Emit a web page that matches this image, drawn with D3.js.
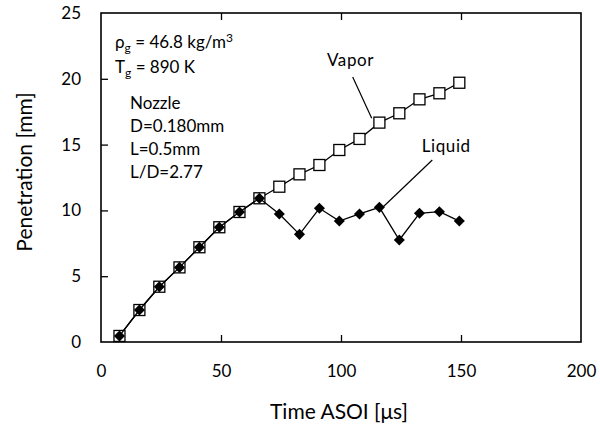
<!DOCTYPE html>
<html>
<head>
<meta charset="utf-8">
<script src="https://cdn.jsdelivr.net/npm/d3@7"></script>
<style>
  html, body { margin: 0; padding: 0; background: #fff; }
  svg { display: block; font-family: Lato, "Open Sans", sans-serif; }
</style>
</head>
<body>
<svg id="chart" width="600" height="430"></svg>
<script>
// Spray penetration vs. time after start of injection
const timeUs = [7.7, 16.0, 24.3, 32.7, 41.0, 49.3, 57.7, 66.0, 74.3, 82.7, 91.0, 99.3, 107.7, 116.0, 124.3, 132.7, 141.0, 149.3];
const vaporMm = [0.46, 2.43, 4.2, 5.67, 7.2, 8.72, 9.88, 10.92, 11.8, 12.74, 13.45, 14.59, 15.43, 16.67, 17.38, 18.44, 18.9, 19.7];
const liquidMm = [0.46, 2.43, 4.2, 5.67, 7.2, 8.72, 9.88, 10.92, 9.73, 8.18, 10.16, 9.19, 9.73, 10.23, 7.75, 9.78, 9.9, 9.19];
const xTicks = [0, 50, 100, 150, 200];
const yTicks = [0, 5, 10, 15, 20, 25];

const svg = d3.select("#chart");
const plotL = 101, plotR = 581, plotT = 13, plotB = 342;

const x = d3.scaleLinear().domain([0, 200]).range([plotL, plotR]);
const y = d3.scaleLinear().domain([0, 25]).range([plotB, plotT]);

// frame
svg.append("rect")
  .attr("x", plotL).attr("y", plotT)
  .attr("width", plotR - plotL).attr("height", plotB - plotT)
  .attr("fill", "none").attr("stroke", "#000").attr("stroke-width", 1.6);

// bottom axis: inward ticks, labels below
const xAxis = svg.append("g").attr("transform", `translate(0,${plotB})`)
  .call(d3.axisBottom(x).tickValues(xTicks).tickSizeInner(-7).tickSizeOuter(0).tickPadding(23));
xAxis.select(".domain").remove();
xAxis.selectAll(".tick line").attr("stroke-width", 1.3);
xAxis.selectAll("text").attr("font-size", 17).attr("fill", "#000").attr("font-family", "Lato, sans-serif");
xAxis.selectAll(".tick").filter(d => d === 0 || d === 200).select("line").remove();

// top axis: inward ticks only
const xTop = svg.append("g").attr("transform", `translate(0,${plotT})`)
  .call(d3.axisTop(x).tickValues([50, 100, 150]).tickSizeInner(-7).tickSizeOuter(0).tickFormat(""));
xTop.select(".domain").remove();
xTop.selectAll(".tick line").attr("stroke-width", 1.3);

// left axis: inward ticks, labels left
const yAxis = svg.append("g").attr("transform", `translate(${plotL},0)`)
  .call(d3.axisLeft(y).tickValues(yTicks).tickSizeInner(-7).tickSizeOuter(0).tickPadding(20));
yAxis.select(".domain").remove();
yAxis.selectAll(".tick line").attr("stroke-width", 1.3);
yAxis.selectAll("text").attr("font-size", 17).attr("fill", "#000").attr("font-family", "Lato, sans-serif");
yAxis.selectAll(".tick").filter(d => d === 0 || d === 25).select("line").remove();

// axis titles
svg.append("text").attr("x", 339).attr("y", 419).attr("text-anchor", "middle")
  .attr("font-size", 21).text("Time ASOI [μs]");
svg.append("text").attr("transform", "translate(32,172) rotate(-90)")
  .attr("text-anchor", "middle").attr("font-size", 21).text("Penetration [mm]");

const line = d3.line().x((d, i) => x(timeUs[i])).y(d => y(d));

// vapor series: open squares
svg.append("path").datum(vaporMm).attr("d", line)
  .attr("fill", "none").attr("stroke", "#000").attr("stroke-width", 1.3);
svg.append("g").selectAll("rect").data(vaporMm).join("rect")
  .attr("x", (d, i) => x(timeUs[i]) - 5.5).attr("y", d => y(d) - 5.5)
  .attr("width", 11).attr("height", 11)
  .attr("fill", "#fff").attr("stroke", "#000").attr("stroke-width", 1.3);

// liquid series: filled diamonds
svg.append("path").datum(liquidMm).attr("d", line)
  .attr("fill", "none").attr("stroke", "#000").attr("stroke-width", 1.3);
const diamond = d3.symbol().type(d3.symbolDiamond2).size(78);
svg.append("g").selectAll("path").data(liquidMm).join("path")
  .attr("transform", (d, i) => `translate(${x(timeUs[i])},${y(d)})`)
  .attr("d", diamond).attr("fill", "#000");

// series labels with leader lines
svg.append("text").attr("x", 327).attr("y", 66).attr("font-size", 17)
  .attr("letter-spacing", 0.6).text("Vapor");
svg.append("line").attr("x1", 352.7).attr("y1", 77).attr("x2", 371.7).attr("y2", 118.3)
  .attr("stroke", "#000").attr("stroke-width", 1.2);
svg.append("text").attr("x", 421.7).attr("y", 152).attr("font-size", 17)
  .attr("letter-spacing", 0.6).text("Liquid");
svg.append("line").attr("x1", 432.3).attr("y1", 160).attr("x2", 383.3).attr("y2", 206.7)
  .attr("stroke", "#000").attr("stroke-width", 1.2);

// ambient conditions
const cond = svg.append("g").attr("font-size", 17);
const rho = cond.append("text").attr("x", 115).attr("y", 48);
rho.append("tspan").text("ρ");
rho.append("tspan").attr("font-size", 12).attr("dy", 4).text("g");
rho.append("tspan").attr("dy", -4).text(" = 46.8 kg/m");
rho.append("tspan").attr("font-size", 12).attr("dy", -6).text("3");
const tg = cond.append("text").attr("x", 115).attr("y", 73);
tg.append("tspan").text("T");
tg.append("tspan").attr("font-size", 12).attr("dy", 4).text("g");
tg.append("tspan").attr("dy", -4).text(" = 890 K");

// nozzle geometry
const nozzleLines = ["Nozzle", "D=0.180mm", "L=0.5mm", "L/D=2.77"];
svg.append("g").attr("font-size", 17).selectAll("text").data(nozzleLines).join("text")
  .attr("x", 130).attr("y", (d, i) => 109 + i * 23).text(d => d);
</script>
</body>
</html>
